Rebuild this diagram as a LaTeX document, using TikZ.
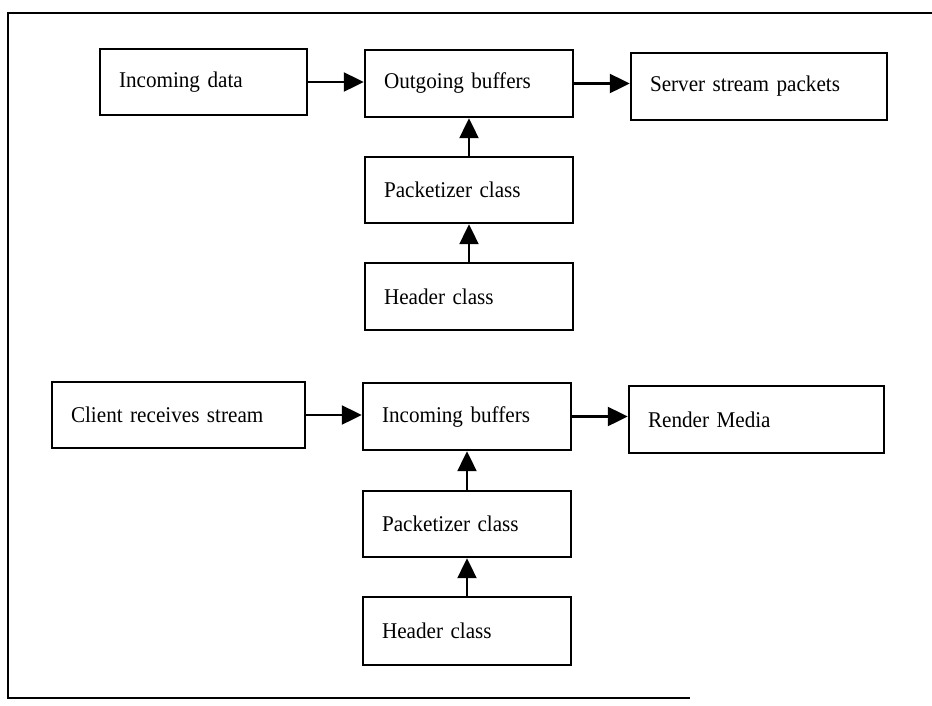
\documentclass[tikz,border=0pt]{standalone}
\usepackage{fontspec}
\setmainfont[FakeStretch=0.94]{Liberation Serif}
\usetikzlibrary{arrows.meta}

\tikzset{
  box/.style={draw, line width=2.4pt, rectangle, inner xsep=19pt, inner ysep=0pt,
              align=left, font=\fontsize{22.5}{26}\selectfont},
  arr/.style={line width=2.2pt, -{Triangle[length=20pt,width=19pt]}},
  frame/.style={line width=2.2pt}
}

\begin{document}
\begin{tikzpicture}[x=1pt, y=-1pt]
  \useasboundingbox (0,0) rectangle (932,705);

  % outer frame, open on the right
  \coordinate (ftr) at (932,13);
  \coordinate (ftl) at (8,13);
  \coordinate (fbl) at (8,698);
  \coordinate (fbr) at (690,698);
  \draw[frame] (ftr) -- (ftl) -- (fbl) -- (fbr);

  % server side
  \node[box, text width=169pt, minimum height=66pt] (indata) at (203.5,82) {Incoming data};
  \node[box, text width=170pt, minimum height=67pt] (outbuf) at (469,83.5) {Outgoing buffers};
  \node[box, text width=218pt, minimum height=67pt] (server) at (759,86.5) {Server stream packets};
  \node[box, text width=170pt, minimum height=66pt] (pack1) at (469,190) {Packetizer class};
  \node[box, text width=170pt, minimum height=67pt] (head1) at (469,296.5) {Header class};

  \draw[arr] (indata.east) -- (indata.east -| outbuf.west);
  \draw[arr] (outbuf.east) -- (outbuf.east -| server.west);
  \draw[arr] (pack1.north) -- (outbuf.south);
  \draw[arr] (head1.north) -- (pack1.south);

  % client side
  \node[box, text width=215pt, minimum height=66pt] (client) at (178.5,415) {Client receives stream};
  \node[box, text width=170pt, minimum height=67pt] (inbuf) at (467,416.5) {Incoming buffers};
  \node[box, text width=217pt, minimum height=67pt] (render) at (756.5,419.5) {Render Media};
  \node[box, text width=170pt, minimum height=66pt] (pack2) at (467,524) {Packetizer class};
  \node[box, text width=170pt, minimum height=68pt] (head2) at (467,631) {Header class};

  \draw[arr] (client.east) -- (client.east -| inbuf.west);
  \draw[arr] (inbuf.east) -- (inbuf.east -| render.west);
  \draw[arr] (pack2.north) -- (inbuf.south);
  \draw[arr] (head2.north) -- (pack2.south);
\end{tikzpicture}
\end{document}
